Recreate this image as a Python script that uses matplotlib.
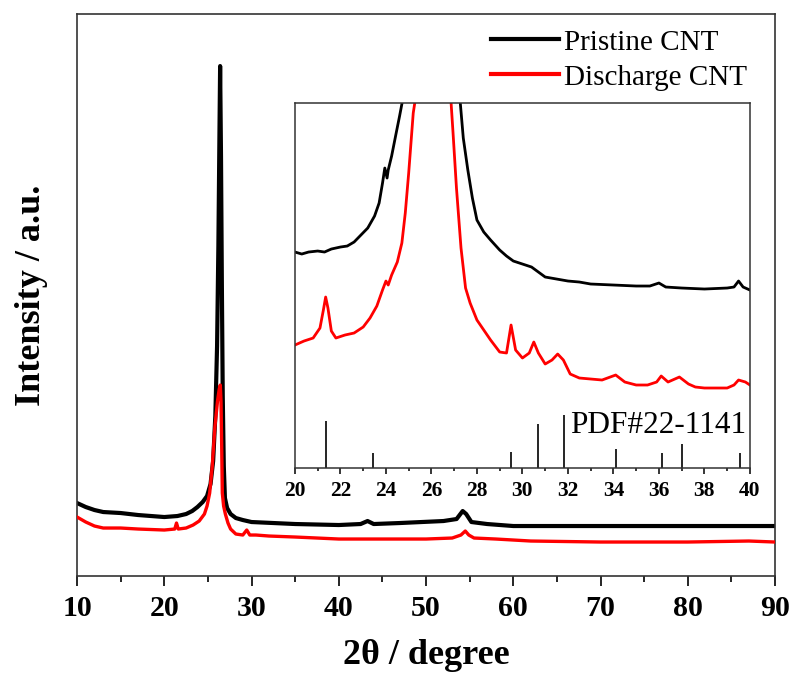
#!/usr/bin/env python3
import matplotlib as mpl

mpl.use("Agg")
import matplotlib.pyplot as plt
from matplotlib.ticker import MultipleLocator

# main pattern, 2theta (deg) vs intensity (a.u., offset traces)
pristine_x = [10, 11, 12, 13, 15, 17, 20, 21.5, 22.5, 23.2, 23.8, 24.4, 24.9, 25.3, 25.6,
              25.85, 26.05, 26.2, 26.32, 26.4, 26.5, 26.6, 26.7, 26.82, 26.95, 27.2, 27.6,
              28.2, 29, 30, 35, 40, 42.5, 43.3, 44, 47, 52, 53.5, 54.2, 54.6, 55.2, 57, 60,
              70, 80, 90]
pristine_y = [73, 69, 66, 64, 63, 61, 59, 60, 62, 65, 69, 74, 80, 92, 115,
              160, 230, 330, 440, 510, 420, 290, 180, 110, 78, 68, 62,
              58, 56, 54, 52, 51, 52, 55, 52, 53, 55, 57, 65, 62, 54, 52, 50,
              50, 50, 50]

discharge_x = [10, 11, 12, 13, 15, 17, 20, 21.2, 21.4, 21.6, 22.5, 23.3, 24.0, 24.6, 24.9,
               25.2, 25.5, 25.8, 26.1, 26.3, 26.42, 26.5, 26.58, 26.65, 26.8, 27.0, 27.3,
               27.6, 28.2, 29.0, 29.45, 29.8, 30.5, 32, 35, 40, 47, 50, 53, 54.0, 54.5,
               54.9, 55.5, 58, 62, 70, 80, 87, 90]
discharge_y = [59, 54, 50, 48, 48, 47, 46, 47, 53, 47, 48, 51, 55, 62, 70,
               83, 110, 149, 175, 187, 191, 175, 130, 83, 70, 62, 53,
               47, 42, 41, 46, 41, 41, 40, 39, 37, 37, 37, 38, 41, 45,
               41, 38, 37, 35, 34, 34, 35, 34]

# inset, 20-40 deg zoom
in_pristine_x = [20.0, 20.3, 20.6, 21.0, 21.3, 21.6, 22.0, 22.3, 22.6, 22.9, 23.2, 23.5, 23.7,
                 23.85, 23.95, 24.05, 24.1, 24.25, 24.45, 24.6, 24.75, 27.25, 27.4, 27.6,
                 27.8, 28.0, 28.3, 28.6, 29.0, 29.3, 29.6, 30.0, 30.4, 30.7, 31.0, 31.5,
                 32.0, 32.5, 33.0, 34.0, 35.0, 35.6, 36.0, 36.3, 37.0, 38.0, 39.0, 39.3,
                 39.5, 39.7, 40.0]
in_pristine_y = [216, 214, 216, 217, 216, 219, 221, 222, 226, 233, 240, 252, 265,
                 285, 300, 290, 298, 312, 335, 352, 370, 370, 330, 298,
                 270, 248, 236, 228, 218, 212, 207, 204, 201, 196, 191, 189,
                 187, 186, 184, 183, 182, 182, 185, 181, 180, 179, 180, 181,
                 187, 181, 178]

in_discharge_x = [20.0, 20.4, 20.8, 21.1, 21.25, 21.35, 21.45, 21.6, 21.8, 22.2, 22.6, 23.0,
                  23.3, 23.6, 23.85, 24.0, 24.1, 24.25, 24.5, 24.7, 24.85, 25.0, 25.1, 25.2,
                  25.3, 26.85, 26.95, 27.1, 27.3, 27.5, 27.7, 28.0, 28.3, 28.6, 29.0, 29.3,
                  29.5, 29.7, 30.0, 30.3, 30.5, 30.7, 31.0, 31.3, 31.55, 31.8, 32.1, 32.5,
                  33.0, 33.5, 34.1, 34.5, 35.0, 35.5, 35.9, 36.1, 36.4, 36.9, 37.3, 37.6,
                  38.0, 38.5, 39.0, 39.3, 39.5, 39.8, 40.0]
in_discharge_y = [123, 127, 130, 140, 158, 171, 160, 137, 130, 133, 135, 141,
                  150, 162, 178, 187, 183, 193, 206, 225, 255, 295, 325, 355,
                  370, 370, 335, 280, 220, 180, 165, 148, 138, 128, 116, 115,
                  143, 118, 110, 115, 126, 115, 104, 108, 114, 108, 94, 90,
                  89, 88, 93, 86, 83, 83, 86, 92, 86, 91, 84, 81,
                  80, 80, 80, 83, 88, 86, 83]

# PDF#22-1141 reference lines
ref_pos = [21.35, 23.44, 29.51, 30.67, 31.81, 34.11, 36.13, 37.03, 39.56]
ref_height = [47, 15, 16, 44, 53, 19, 15, 24, 15]

plt.rcParams["font.family"] = ["Liberation Serif", "DejaVu Serif"]

fig = plt.figure(figsize=(7.95, 6.73), dpi=100)
ax = fig.add_axes([0.0969, 0.1441, 0.878, 0.835])

ax.plot(pristine_x, pristine_y, color="black", lw=3.0, label="Pristine CNT", zorder=2)
ax.plot(discharge_x, discharge_y, color="red", lw=2.4, label="Discharge CNT", zorder=3)
ax.set_xlim(10, 90)
ax.set_ylim(0, 562)
ax.set_yticks([])
ax.xaxis.set_major_locator(MultipleLocator(10))
ax.xaxis.set_minor_locator(MultipleLocator(5))
ax.tick_params(axis="x", which="major", direction="out", length=7, width=1.2, labelsize=21.5, pad=7)
ax.tick_params(axis="x", which="minor", direction="out", length=4, width=1.2)
for lab in ax.get_xticklabels():
    lab.set_fontweight("bold")
for sp in ax.spines.values():
    sp.set_linewidth(1.2)
    sp.set_color("#333333")
ax.set_xlabel("2θ / degree", fontsize=26, fontweight="bold", labelpad=12)
ax.set_ylabel("Intensity / a.u.", fontsize=26, fontweight="bold", labelpad=21)

leg = ax.legend(loc="upper right", bbox_to_anchor=(0.96, 0.973), frameon=False, fontsize=21,
                handlelength=2.35, handletextpad=0.17, labelspacing=0.29, borderpad=0,
                borderaxespad=0)
for line in leg.get_lines():
    line.set_linewidth(3.0)

# inset
ins = fig.add_axes([0.371, 0.3046, 0.5723, 0.5423])
ins.plot(in_pristine_x, in_pristine_y, color="black", lw=2.0)
ins.plot(in_discharge_x, in_discharge_y, color="red", lw=2.0)
ins.vlines(ref_pos, 0, ref_height, color="black", lw=1.2)
ins.text(32.09, 35, "PDF#22-1141", fontsize=22.5, ha="left", va="baseline")
ins.set_xlim(20, 40)
ins.set_ylim(0, 365)
ins.set_yticks([])
ins.xaxis.set_major_locator(MultipleLocator(2))
ins.xaxis.set_minor_locator(MultipleLocator(1))
ins.tick_params(axis="x", which="major", direction="out", length=4.5, width=1.1, labelsize=15.5, pad=5)
ins.tick_params(axis="x", which="minor", direction="out", length=2.5, width=1.1)
for lab in ins.get_xticklabels():
    lab.set_fontweight("bold")
for sp in ins.spines.values():
    sp.set_linewidth(1.1)
    sp.set_color("#333333")

fig.savefig("out.png", dpi=100)
